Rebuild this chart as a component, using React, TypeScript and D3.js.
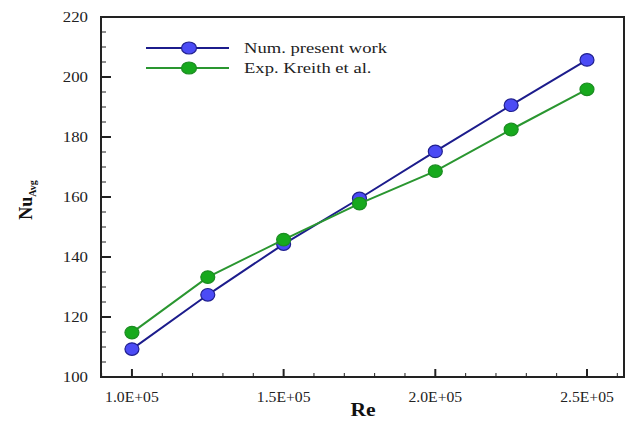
import React, { useEffect, useRef } from 'react';
import * as d3 from 'd3';

const reValues = [1.0e5, 1.25e5, 1.5e5, 1.75e5, 2.0e5, 2.25e5, 2.5e5];
const numPresent = [109.3, 127.4, 144.3, 159.5, 175.2, 190.6, 205.7];
const expKreith = [114.8, 133.3, 145.8, 157.8, 168.6, 182.5, 195.9];
const seriesNames = ['Num. present work', 'Exp. Kreith et al.'];
const xTicks = [1.0e5, 1.5e5, 2.0e5, 2.5e5];
const yTicks = [100, 120, 140, 160, 180, 200, 220];

const App = () => {
    const ref = useRef<SVGSVGElement>(null);

    useEffect(() => {
        const width = 627;
        const height = 421;
        const margin = { left: 101, right: 3, top: 17, bottom: 44 };
        const font = 'Liberation Serif';
        const sx = 1.2; // the original picture is stretched sideways

        const svg = d3.select(ref.current);
        svg.selectAll('*').remove();

        const x = d3.scaleLinear()
            .domain([0.898e5, 2.622e5])
            .range([margin.left, width - margin.right]);
        const y = d3.scaleLinear()
            .domain([100, 220])
            .range([height - margin.bottom, margin.top]);

        const series = [
            { name: seriesNames[0], values: numPresent, line: '#1c1c8c', fill: '#4b4bf5', stroke: '#20208f' },
            { name: seriesNames[1], values: expKreith, line: '#2a9630', fill: '#17a91d', stroke: '#1c8c22' },
        ];

        // ticks, pointing inwards
        const isMajorX = (d: number) => xTicks.some(t => Math.abs(t - d) < 1);
        const xMinor = d3.range(0.9e5, 2.61e5, 0.1e5);
        const yMinor = d3.range(100, 221, 5);
        const axes = svg.append('g').attr('stroke', '#222');
        axes.selectAll('.xm').data(xMinor).join('line')
            .attr('x1', d => x(d)).attr('x2', d => x(d))
            .attr('y1', y(100)).attr('y2', d => y(100) - (isMajorX(d) ? 8 : 4))
            .attr('stroke-width', d => isMajorX(d) ? 2 : 1);
        axes.selectAll('.ym').data(yMinor).join('line')
            .attr('y1', d => y(d)).attr('y2', d => y(d))
            .attr('x1', x.range()[0]).attr('x2', d => x.range()[0] + (d % 20 === 0 ? 10 : 5))
            .attr('stroke-width', d => d % 20 === 0 ? 2 : 1);

        svg.append('rect')
            .attr('x', margin.left).attr('y', margin.top)
            .attr('width', width - margin.left - margin.right)
            .attr('height', height - margin.top - margin.bottom)
            .attr('fill', 'none').attr('stroke', '#222').attr('stroke-width', 2);

        svg.append('g').selectAll('text').data(xTicks).join('text')
            .attr('transform', d => `translate(${x(d)},${y(100) + 25}) scale(1.12,1)`)
            .attr('text-anchor', 'middle')
            .attr('font-family', font).attr('font-size', 14).attr('fill', '#222')
            .text(d => `${(d / 1e5).toFixed(1)}E+05`);

        svg.append('g').selectAll('text').data(yTicks).join('text')
            .attr('transform', d => `translate(${margin.left - 13},${y(d)}) scale(${sx},1)`)
            .attr('dy', '0.35em')
            .attr('text-anchor', 'end')
            .attr('font-family', font).attr('font-size', 14).attr('fill', '#222')
            .text(d => d);

        svg.append('text')
            .attr('transform', `translate(363,416) scale(${sx},1)`)
            .attr('text-anchor', 'middle')
            .attr('font-family', font).attr('font-size', 18).attr('font-weight', 'bold').attr('fill', '#111')
            .text('Re');

        const yl = svg.append('text')
            .attr('transform', 'translate(32,200) rotate(-90)')
            .attr('text-anchor', 'middle')
            .attr('font-family', font).attr('font-size', 18).attr('font-weight', 'bold').attr('fill', '#111');
        yl.append('tspan').text('Nu');
        yl.append('tspan').attr('dy', 4).attr('font-size', 10).text('Avg');

        const line = d3.line<number>()
            .x((_, i) => x(reValues[i]))
            .y(d => y(d));

        for (const s of series) {
            svg.append('path')
                .attr('d', line(s.values))
                .attr('fill', 'none').attr('stroke', s.line).attr('stroke-width', 2);
            svg.append('g').selectAll('ellipse').data(s.values).join('ellipse')
                .attr('cx', (_, i) => x(reValues[i])).attr('cy', d => y(d))
                .attr('rx', 7).attr('ry', 6.3)
                .attr('fill', s.fill).attr('stroke', s.stroke).attr('stroke-width', 1.2);
        }

        // legend
        const legend = svg.append('g').selectAll('g').data(series).join('g')
            .attr('transform', (_, i) => `translate(146,${48 + i * 20})`);
        legend.append('line')
            .attr('x1', 0).attr('x2', 83)
            .attr('stroke', d => d.line).attr('stroke-width', 2);
        legend.append('ellipse')
            .attr('cx', 43).attr('rx', 7.5).attr('ry', 6)
            .attr('fill', d => d.fill).attr('stroke', d => d.stroke).attr('stroke-width', 1.2);
        legend.append('text')
            .attr('transform', `translate(98,0) scale(${sx},1)`)
            .attr('dy', '0.32em')
            .attr('font-family', font).attr('font-size', 15.5).attr('fill', '#222')
            .text(d => d.name);
    }, []);

    return (
        <svg ref={ref} width={627} height={421}
            style={{ position: 'absolute', left: 0, top: 0, background: '#fff' }} />
    );
};

export default App;
